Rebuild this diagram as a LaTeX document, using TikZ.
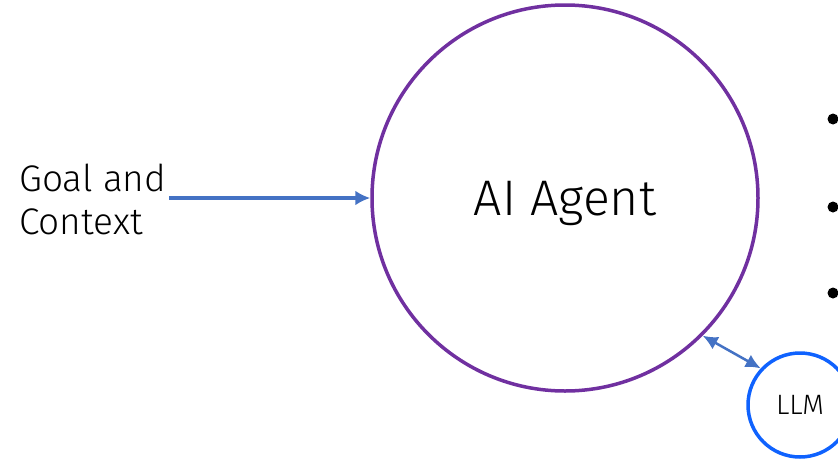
\documentclass[tikz,border=0pt]{standalone}
\usepackage{fontspec}
\setmainfont{Fira Sans Light}
\usepackage{tikz}
\usetikzlibrary{positioning, arrows.meta}
\definecolor{agentpurple}{HTML}{7030A0}
\definecolor{arrowblue}{HTML}{4472C4}
\definecolor{llmblue}{HTML}{0F62FE}

\begin{document}
\begin{tikzpicture}[x=1pt, y=-1pt,
    agentnode/.style={circle, draw=agentpurple, line width=3.5pt, minimum size=386pt, inner sep=0pt, text depth=0pt, font=\fontsize{50}{50}\selectfont},
    llmnode/.style={circle, draw=llmblue, line width=3.5pt, minimum size=104pt, inner sep=0pt, font=\fontsize{28}{28}\selectfont},
    inputtext/.style={align=left, anchor=west, inner sep=0pt, font=\fontsize{37}{43}\selectfont},
    bulletdot/.style={circle, fill=black, minimum size=11pt, inner sep=0pt},
    flow/.style={draw=arrowblue, line width=4pt, -{Latex[length=15pt,width=15pt]}}]

    \useasboundingbox (0,0) rectangle (838,461);

    \node[agentnode] (agent) at (565,198) {AI Agent};
    \node[llmnode] (llm) at (800,405) {LLM};
    \node[inputtext] (goal) at (19,199) {Goal and\\Context};

    \node[bulletdot] (b1) at (833,119) {};
    \node[bulletdot] (b2) at (833,207) {};
    \node[bulletdot] (b3) at (833,293) {};

    \draw[flow] ([xshift=3pt]goal.east |- agent.west) -- (agent.west);
    \draw[draw=arrowblue, line width=2.5pt, {Latex[length=15pt,width=14pt]}-{Latex[length=15pt,width=14pt]}] (agent.-45) -- (llm.137);

\end{tikzpicture}
\end{document}
